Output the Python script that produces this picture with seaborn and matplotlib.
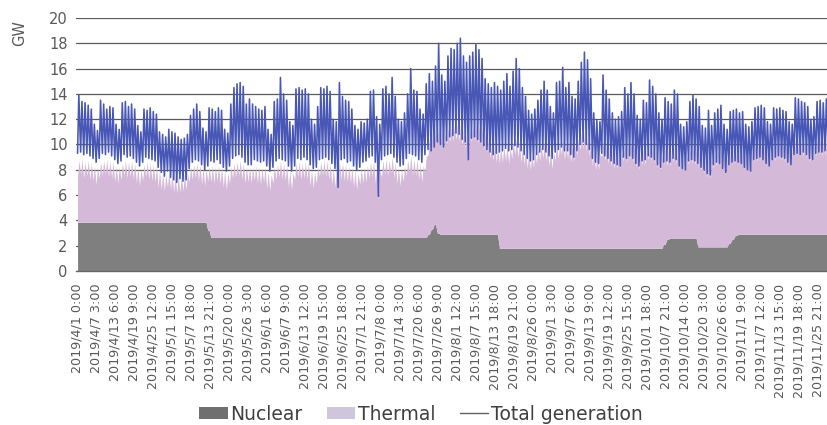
import numpy as np
import pandas as pd
import matplotlib
matplotlib.use("Agg")
import matplotlib.pyplot as plt
import seaborn as sns
from matplotlib.patches import Patch
from matplotlib.lines import Line2D

# ---------------- data (GW), one value per day, 2019/4/1 .. 2019/11/30 ----------------
# daily maximum of total generation
total_high = [
    13.9, 13.4, 13.3, 13.1, 12.8, 11.6, 11.1,
    13.5, 13.2, 12.8, 13.0, 12.9, 11.6, 11.2,
    13.3, 13.4, 13.0, 13.2, 12.8, 11.5, 11.0,
    12.8, 12.7, 12.9, 12.6, 12.4, 11.0, 10.8,
    10.6, 11.2, 11.0, 10.9, 10.6, 10.4, 10.5,
    10.8, 12.3, 12.8, 13.2, 12.6, 11.3, 11.0,
    12.9, 12.8, 12.6, 12.9, 12.7, 11.2, 10.9,
    13.2, 14.5, 14.8, 14.9, 14.6, 13.2, 13.6,
    13.2, 13.0, 12.8, 12.7, 13.0, 11.2, 10.8,
    13.4, 13.6, 15.3, 14.0, 13.5, 11.8, 11.5,
    14.4, 14.5, 14.3, 14.4, 14.0, 12.0, 11.6,
    13.0, 14.5, 14.4, 14.6, 14.2, 12.0, 11.8,
    14.9, 13.8, 13.5, 13.4, 12.8, 11.5, 11.2,
    11.8, 11.7, 12.0, 14.2, 14.3, 12.2, 11.6,
    14.4, 14.6, 14.0, 15.3, 13.8, 12.0, 11.8,
    12.5, 14.0, 16.0, 14.3, 14.2, 12.8, 12.4,
    14.8, 15.6, 15.0, 16.2, 18.0, 15.5, 15.0,
    17.0, 17.6, 17.5, 18.0, 18.4, 17.0, 16.5,
    17.0, 17.3, 17.9, 17.5, 16.8, 15.2, 14.8,
    14.5, 14.9, 14.6, 14.3, 15.0, 15.6, 14.6,
    15.8, 16.8, 16.0, 14.5, 13.8, 12.7, 12.4,
    12.8, 13.5, 14.3, 15.0, 14.3, 13.0, 12.5,
    14.9, 15.0, 16.1, 14.5, 14.9, 13.8, 13.6,
    15.0, 16.5, 17.3, 16.7, 15.2, 12.5, 11.9,
    11.8, 15.5, 14.3, 13.6, 12.5, 12.0, 12.2,
    12.6, 14.5, 14.0, 14.9, 14.0, 12.3, 12.0,
    13.5, 13.3, 15.1, 14.6, 14.0, 12.5, 12.0,
    13.7, 13.4, 13.2, 14.3, 14.0, 11.6, 11.4,
    11.8, 13.4, 13.9, 13.6, 13.0, 11.5, 11.3,
    12.7, 11.5, 12.5, 12.8, 13.1, 11.6, 11.2,
    12.6, 12.7, 12.8, 12.5, 12.6, 11.6, 11.4,
    11.8, 12.9, 13.0, 13.1, 12.9, 11.8, 11.6,
    12.9, 12.8, 12.9, 12.7, 12.6, 11.8, 11.6,
    13.7, 13.6, 13.4, 13.3, 13.0, 12.0, 12.2,
    13.4, 13.5, 13.3, 13.6, 13.4, 12.3,
]
# daily minimum of total generation
total_low = [
    9.3, 9.4, 9.2, 9.3, 9.1, 8.9, 8.6,
    8.9, 9.3, 9.2, 9.4, 9.1, 8.8, 8.5,
    8.7, 9.2, 9.0, 9.1, 8.9, 8.6, 8.3,
    8.6, 9.0, 8.9, 8.8, 8.7, 8.2, 7.8,
    7.5, 7.9, 7.4, 7.2, 7.0, 7.3, 7.1,
    7.2, 8.1, 8.6, 8.8, 8.7, 8.4, 8.0,
    8.3, 8.7, 8.6, 8.8, 8.5, 8.2, 7.9,
    8.3, 8.9, 9.1, 9.2, 9.0, 8.6, 8.4,
    8.4, 8.8, 8.7, 8.6, 8.7, 8.3, 7.9,
    8.2, 8.7, 8.9, 8.8, 8.7, 8.3, 7.9,
    8.3, 8.9, 8.8, 9.0, 8.8, 8.4, 8.1,
    8.2, 8.8, 8.9, 9.0, 8.8, 8.5, 8.1,
    6.6, 8.8, 8.9, 8.6, 8.7, 8.3, 8.0,
    8.2, 8.6, 8.7, 9.0, 9.1, 8.6, 5.9,
    8.8, 9.1, 9.2, 9.3, 9.0, 8.6, 8.3,
    8.4, 8.9, 9.3, 9.2, 9.1, 8.8, 8.6,
    9.2, 9.6, 9.5, 9.8, 10.2, 10.0, 9.8,
    10.3, 10.6, 10.7, 10.9, 10.8, 10.4, 10.2,
    8.8, 10.5, 10.6, 10.4, 10.2, 9.9, 9.6,
    9.4, 9.2, 9.3, 9.4, 9.5, 9.7, 9.5,
    9.6, 9.9, 9.8, 9.5, 9.2, 8.9, 8.7,
    8.8, 9.2, 9.4, 9.6, 9.4, 9.1, 8.9,
    9.4, 9.6, 9.8, 9.5, 9.5, 9.2, 9.0,
    9.5, 10.0, 10.2, 10.0, 9.6, 8.9, 8.6,
    8.5, 9.3, 9.1, 8.9, 8.7, 8.5, 8.4,
    8.3, 9.0, 8.9, 9.1, 8.9, 8.5, 8.3,
    8.7, 8.8, 9.1, 9.0, 8.8, 8.4, 8.2,
    8.6, 8.7, 8.6, 8.9, 8.8, 8.3, 8.1,
    8.0, 8.7, 8.8, 8.7, 8.5, 8.2, 8.0,
    7.7, 7.6, 8.4, 8.6, 8.5, 8.1, 7.8,
    8.4, 8.6, 8.7, 8.6, 8.5, 8.2, 8.0,
    7.9, 8.8, 8.9, 9.0, 8.8, 8.5, 8.3,
    8.8, 9.0, 9.1, 9.0, 8.9, 8.6, 8.4,
    9.2, 9.3, 9.2, 9.4, 9.2, 8.9, 8.8,
    9.3, 9.4, 9.4, 9.5, 9.3, 9.0,
]
# nuclear output per day
nuclear = ([3.85] * 42 + [3.2] + [2.65] * 70 + [2.9, 3.3, 3.7, 3.0] + [2.9] * 19
           + [1.8] * 53 + [2.1, 2.5] + [2.6] * 9 + [1.9] * 10 + [2.2, 2.5, 2.8] + [2.9] * 31)
# thermal output, daytime and night-time per day
thermal_high = [
    4.9, 5.0, 4.8, 4.9, 4.7, 4.5, 4.3,
    4.8, 4.9, 5.0, 4.9, 4.8, 4.5, 4.4,
    4.7, 4.9, 4.8, 4.9, 4.7, 4.4, 4.2,
    4.6, 4.8, 4.7, 4.6, 4.5, 4.1, 3.9,
    3.8, 4.0, 3.9, 3.8, 3.7, 3.7, 3.8,
    3.9, 4.4, 4.6, 4.7, 4.6, 4.3, 4.2,
    5.1, 5.7, 5.6, 5.7, 5.6, 5.3, 5.1,
    5.6, 5.9, 6.0, 6.1, 5.9, 5.6, 5.6,
    5.6, 5.7, 5.6, 5.5, 5.6, 5.2, 5.0,
    5.6, 5.8, 6.1, 5.9, 5.8, 5.3, 5.1,
    5.9, 6.0, 5.9, 6.0, 5.9, 5.4, 5.2,
    5.6, 6.0, 6.1, 6.1, 5.9, 5.5, 5.3,
    6.0, 5.9, 5.8, 5.7, 5.6, 5.3, 5.1,
    5.5, 5.6, 5.7, 6.0, 6.1, 5.6, 5.3,
    6.1, 6.2, 6.1, 6.4, 6.0, 5.6, 5.4,
    5.7, 6.1, 6.5, 6.2, 6.2, 5.9, 5.7,
    6.4, 7.6, 7.7, 7.6, 8.4, 8.3, 8.1,
    8.4, 8.5, 8.6, 8.7, 8.7, 8.3, 8.1,
    8.4, 8.6, 8.7, 8.5, 8.4, 8.0, 7.8,
    7.3, 7.1, 7.0, 8.0, 8.1, 8.2, 8.0,
    8.4, 8.7, 8.5, 8.1, 7.9, 7.6, 7.5,
    7.7, 8.0, 8.2, 8.4, 8.2, 7.8, 7.6,
    8.3, 8.4, 8.7, 8.3, 8.4, 8.1, 8.2,
    8.7, 9.1, 9.2, 9.0, 8.6, 7.8, 7.5,
    7.5, 8.5, 8.2, 8.0, 7.8, 7.6, 7.6,
    7.6, 8.2, 8.1, 8.3, 8.1, 7.7, 7.5,
    7.9, 7.9, 8.3, 8.2, 8.0, 7.6, 7.4,
    7.6, 7.1, 7.0, 7.3, 7.2, 6.7, 6.6,
    6.6, 7.1, 7.2, 7.1, 7.6, 7.3, 7.1,
    7.4, 7.2, 7.5, 7.7, 7.8, 7.3, 7.1,
    7.4, 7.2, 7.0, 6.8, 6.9, 6.5, 6.4,
    6.5, 7.0, 7.1, 7.2, 7.1, 6.7, 6.6,
    7.1, 7.1, 7.2, 7.1, 7.0, 6.8, 6.7,
    7.5, 7.5, 7.4, 7.5, 7.3, 7.0, 7.0,
    7.5, 7.6, 7.5, 7.6, 7.5, 7.2,
]
thermal_low = [
    3.6, 3.8, 3.5, 3.7, 3.4, 3.3, 3.0,
    3.5, 3.7, 3.8, 3.6, 3.5, 3.2, 3.1,
    3.4, 3.7, 3.5, 3.6, 3.4, 3.1, 2.9,
    3.3, 3.6, 3.4, 3.3, 3.2, 2.8, 2.6,
    2.5, 2.8, 2.6, 2.4, 2.3, 2.4, 2.5,
    2.6, 3.2, 3.4, 3.5, 3.3, 3.0, 2.9,
    3.9, 4.4, 4.3, 4.5, 4.3, 4.0, 3.8,
    4.3, 4.7, 4.8, 4.9, 4.6, 4.3, 4.4,
    4.3, 4.5, 4.3, 4.2, 4.4, 3.9, 3.7,
    4.3, 4.6, 4.8, 4.6, 4.5, 4.0, 3.8,
    4.6, 4.8, 4.6, 4.7, 4.6, 4.1, 3.9,
    4.3, 4.8, 4.9, 4.8, 4.6, 4.2, 4.0,
    3.7, 4.6, 4.5, 4.4, 4.3, 4.0, 3.8,
    4.2, 4.3, 4.4, 4.7, 4.8, 4.3, 3.0,
    4.8, 5.0, 4.9, 5.1, 4.7, 4.3, 4.1,
    4.4, 4.9, 5.2, 4.9, 4.9, 4.6, 4.4,
    5.2, 6.3, 6.4, 6.3, 7.1, 7.0, 6.8,
    7.1, 7.3, 7.4, 7.5, 7.4, 7.0, 6.8,
    6.0, 7.3, 7.4, 7.2, 7.1, 6.7, 6.5,
    6.0, 5.8, 5.7, 6.7, 6.8, 6.9, 6.7,
    7.1, 7.4, 7.2, 6.8, 6.6, 6.3, 6.2,
    6.4, 6.7, 6.9, 7.1, 6.9, 6.5, 6.3,
    7.0, 7.1, 7.4, 7.0, 7.1, 6.8, 6.9,
    7.4, 7.8, 7.9, 7.7, 7.3, 6.5, 6.2,
    6.2, 7.2, 6.9, 6.7, 6.5, 6.3, 6.3,
    6.3, 6.9, 6.8, 7.0, 6.8, 6.4, 6.2,
    6.6, 6.6, 7.0, 6.9, 6.7, 6.3, 6.1,
    6.3, 5.8, 5.7, 6.0, 5.9, 5.4, 5.3,
    5.3, 5.8, 5.9, 5.8, 6.3, 6.0, 5.8,
    5.5, 5.4, 6.2, 6.4, 6.5, 6.0, 5.8,
    6.1, 5.9, 5.7, 5.5, 5.6, 5.2, 5.1,
    5.0, 5.7, 5.8, 5.9, 5.8, 5.4, 5.3,
    5.8, 5.8, 5.9, 5.8, 5.7, 5.5, 5.4,
    6.2, 6.2, 6.1, 6.2, 6.0, 5.7, 5.7,
    6.2, 6.3, 6.2, 6.3, 6.2, 5.9,
]
tick_labels = [
    "2019/4/1 0:00", "2019/4/7 3:00", "2019/4/13 6:00", "2019/4/19 9:00",
    "2019/4/25 12:00", "2019/5/1 15:00", "2019/5/7 18:00", "2019/5/13 21:00",
    "2019/5/20 0:00", "2019/5/26 3:00", "2019/6/1 6:00", "2019/6/7 9:00",
    "2019/6/13 12:00", "2019/6/19 15:00", "2019/6/25 18:00", "2019/7/1 21:00",
    "2019/7/8 0:00", "2019/7/14 3:00", "2019/7/20 6:00", "2019/7/26 9:00",
    "2019/8/1 12:00", "2019/8/7 15:00", "2019/8/13 18:00", "2019/8/19 21:00",
    "2019/8/26 0:00", "2019/9/1 3:00", "2019/9/7 6:00", "2019/9/13 9:00",
    "2019/9/19 12:00", "2019/9/25 15:00", "2019/10/1 18:00", "2019/10/7 21:00",
    "2019/10/14 0:00", "2019/10/20 3:00", "2019/10/26 6:00", "2019/11/1 9:00",
    "2019/11/7 12:00", "2019/11/13 15:00", "2019/11/19 18:00", "2019/11/25 21:00",
]
series_names = ["Nuclear", "Thermal", "Total generation"]

# ---------------- build long table (night and day sample of each day) ----------------
n_days = len(total_high)
day_start = np.arange(n_days) * 24
hour = np.column_stack([day_start + 4, day_start + 14]).ravel()
df = pd.DataFrame({
    "hour": hour,
    "total": np.column_stack([total_low, total_high]).ravel(),
    "nuclear": np.repeat(nuclear, 2),
    "thermal": np.column_stack([thermal_low, thermal_high]).ravel(),
})
df["stack_top"] = df["nuclear"] + df["thermal"]

sns.set_theme(style="white")
plt.rcParams["font.family"] = ["DejaVu Sans"]

c_nuc = "#7f7f7f"
c_th = "#d5b9d9"
c_line = "#4857b5"
c_grid = "#5a5a5a"
c_txt = "#595959"

fig = plt.figure(figsize=(8.27, 4.25), dpi=100)
ax = fig.add_axes([76 / 827, 1 - 271 / 425, 751 / 827, 253 / 425])

ax.fill_between(df["hour"], 0, df["nuclear"], color=c_nuc, lw=0, zorder=2)
ax.fill_between(df["hour"], df["nuclear"], df["stack_top"], color=c_th, lw=0, zorder=2)
sns.lineplot(data=df, x="hour", y="total", ax=ax, color=c_line, lw=1.15, zorder=3)

ax.set_ylim(0, 20)
ax.set_xlim(-8, 5803)
ax.set_yticks(np.arange(0, 21, 2))
ax.set_xticks(np.arange(len(tick_labels)) * 147)
ax.set_xticklabels(tick_labels, rotation=90, fontsize=9.2, color=c_txt)
ax.tick_params(axis="x", length=0, pad=9)
ax.tick_params(axis="y", length=0, pad=6, labelsize=10.5, labelcolor=c_txt)
ax.yaxis.grid(True, color=c_grid, lw=0.9)
ax.xaxis.grid(False)
ax.set_axisbelow(True)
for s in ["top", "right", "left"]:
    ax.spines[s].set_visible(False)
ax.spines["bottom"].set_color("#666666")
ax.spines["bottom"].set_linewidth(1.0)
ax.set_xlabel("")
ax.set_ylabel("")

fig.text(20 / 827, 1 - 33 / 425, "GW", rotation=90, ha="center", va="center",
         fontsize=10.5, color=c_txt)

handles = [
    Patch(facecolor="#6f6f6f", edgecolor="none"),
    Patch(facecolor="#cfc6dc", edgecolor="none"),
    Line2D([0], [0], color="#606060", lw=1.0),
]
fig.legend(handles, series_names, loc="center", bbox_to_anchor=(421 / 827, 1 - 414 / 425),
           ncol=3, frameon=False, fontsize=13.5, handlelength=1.5, handleheight=0.6,
           handletextpad=0.15, columnspacing=1.3, labelcolor="#3f3f3f", borderpad=0.1)

fig.savefig("out.png", dpi=100)
